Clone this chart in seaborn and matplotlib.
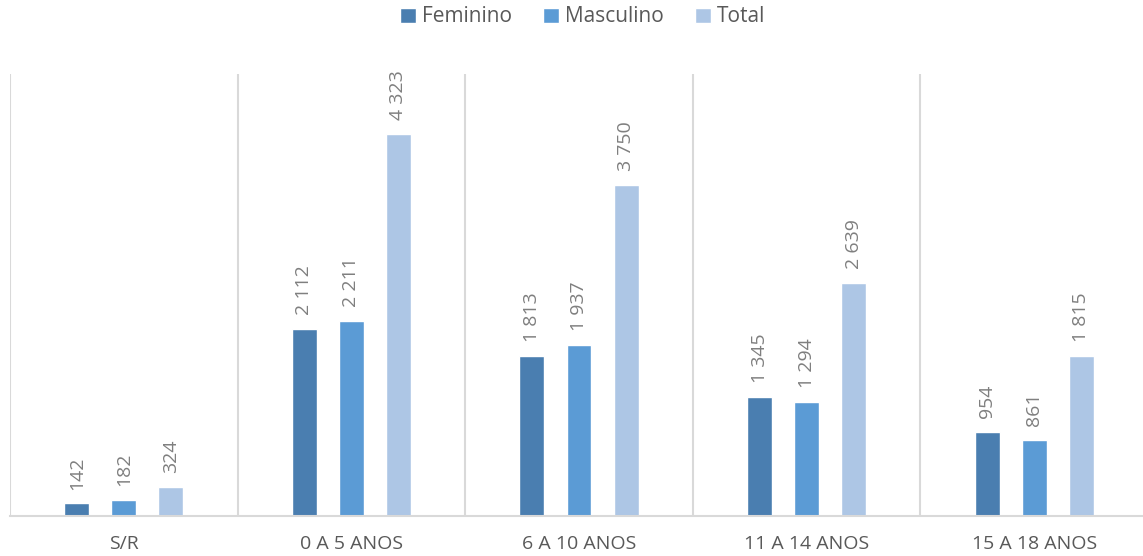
import matplotlib
matplotlib.use("Agg")
import matplotlib.pyplot as plt
import seaborn as sns
import pandas as pd

categories = ["S/R", "0 A 5 ANOS", "6 A 10 ANOS", "11 A 14 ANOS", "15 A 18 ANOS"]
series = ["Feminino", "Masculino", "Total"]
feminino = [142, 2112, 1813, 1345, 954]
masculino = [182, 2211, 1937, 1294, 861]
total = [324, 4323, 3750, 2639, 1815]
colors = ["#4a7eb0", "#5b9bd5", "#adc6e5"]

rows = []
for s, vals in zip(series, [feminino, masculino, total]):
    for c, v in zip(categories, vals):
        rows.append({"cat": c, "serie": s, "valor": v})
df = pd.DataFrame(rows)

sns.set_style("white")
plt.rcParams["font.family"] = ["Open Sans", "DejaVu Sans"]

fig = plt.figure(figsize=(11.43, 5.56), dpi=100)
ax = fig.add_axes([10 / 1143, 1 - 516 / 556, 1138 / 1143, 442 / 556])

sns.barplot(data=df, x="cat", y="valor", hue="serie", order=categories,
            hue_order=series, palette=colors, width=0.62, gap=0.47,
            saturation=1, ax=ax, legend=True)

# rotated value labels above each bar
for cont, vals in zip(ax.containers, [feminino, masculino, total]):
    labels = [f"{v:,}".replace(",", " ") for v in vals]
    ax.bar_label(cont, labels=labels, rotation=90, padding=10,
                 fontsize=14, color="#7f7f7f")

ax.set_ylim(0, 5000)
ax.set_xlim(-0.5, 4.5)
ax.set_yticks([])
ax.set_xlabel("")
ax.set_ylabel("")

# separators between the groups
ax.set_xticks([i - 0.5 for i in range(6)], minor=True)
ax.grid(which="minor", axis="x", color="#d9d9d9", linewidth=1.5)
ax.tick_params(axis="x", which="both", length=0, pad=14, labelsize=14,
               labelcolor="#595959")

for side in ["top", "right", "left"]:
    ax.spines[side].set_visible(False)
ax.spines["bottom"].set_color("#d9d9d9")
ax.spines["bottom"].set_linewidth(1.5)

ax.legend(loc="center", bbox_to_anchor=(0.51, 1 - 17 / 556),
          bbox_transform=fig.transFigure, ncol=3, frameon=False,
          fontsize=15, handlelength=0.75, handleheight=0.75,
          handletextpad=0.3, columnspacing=1.5, labelcolor="#595959")

fig.savefig("out.png", dpi=100)
